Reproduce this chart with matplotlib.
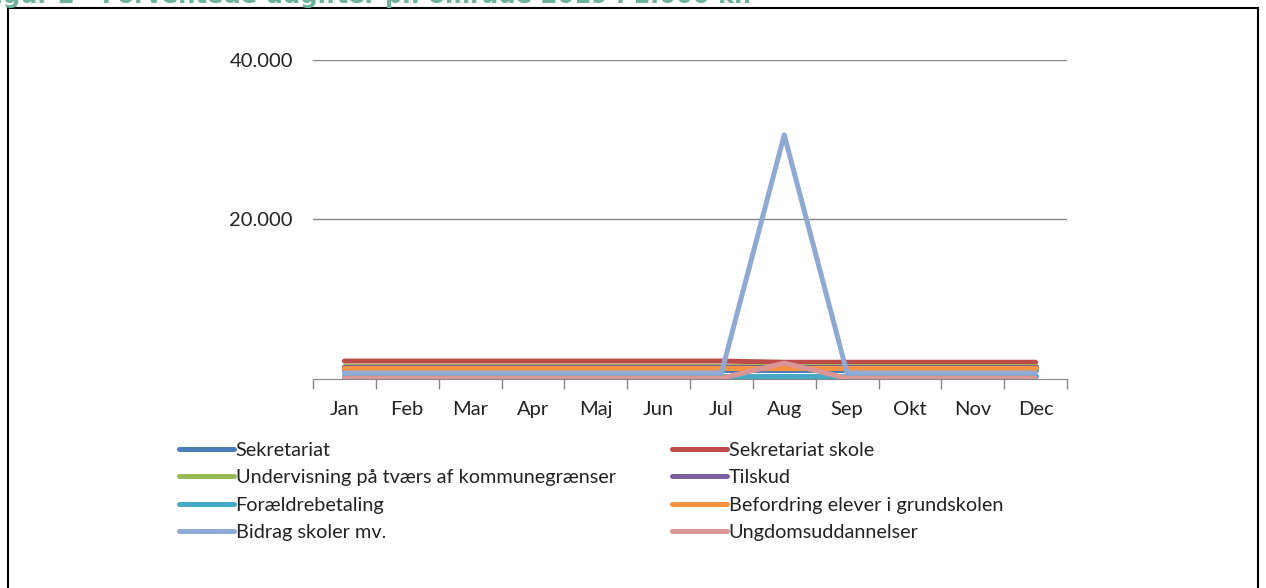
import matplotlib.pyplot as plt
from matplotlib.patches import Rectangle

# ------------------------------------------------------------
# DATA (1.000 kr. per month)
# ------------------------------------------------------------

months = ["Jan", "Feb", "Mar", "Apr", "Maj", "Jun",
          "Jul", "Aug", "Sep", "Okt", "Nov", "Dec"]

sekretariat = [1100, 1100, 1100, 1100, 1100, 1100, 1100, 1100, 1100, 1100, 1100, 1100]
sekretariat_skole = [2250, 2250, 2250, 2250, 2250, 2250, 2250, 2100, 2100, 2100, 2100, 2100]
undervisning = [1600, 1600, 1600, 1600, 1600, 1600, 1600, 1600, 1600, 1600, 1600, 1600]
tilskud = [1500, 1500, 1500, 1500, 1500, 1500, 1500, 1500, 1500, 1500, 1500, 1500]
foraeldrebetaling = [400, 400, 400, 400, 400, 400, 400, 400, 400, 400, 400, 400]
befordring = [1350, 1350, 1350, 1350, 1350, 1350, 1350, 1350, 1350, 1350, 1350, 1350]
bidrag = [750, 750, 750, 750, 750, 750, 750, 30600, 750, 750, 750, 750]
ungdom = [100, 100, 100, 100, 100, 100, 100, 2000, 100, 100, 100, 100]

series = [
    ("Sekretariat", sekretariat, "#4A7EBB"),
    ("Sekretariat skole", sekretariat_skole, "#BE4B48"),
    ("Undervisning på tværs af kommunegrænser", undervisning, "#98B954"),
    ("Tilskud", tilskud, "#7D60A0"),
    ("Forældrebetaling", foraeldrebetaling, "#46AAC5"),
    ("Befordring elever i grundskolen", befordring, "#F69240"),
    ("Bidrag skoler mv.", bidrag, "#8EA9D6"),
    ("Ungdomsuddannelser", ungdom, "#D99694"),
]

plt.rcParams['font.family'] = ['Lato', 'DejaVu Sans']

W, H = 1266, 588
fig = plt.figure(figsize=(W / 100, H / 100), dpi=100)

# frame around the chart area
fig.patches.append(Rectangle((8 / W, -0.05), 1250 / W, (H - 8) / H + 0.05,
                             transform=fig.transFigure, fill=False,
                             edgecolor="black", linewidth=1.5))

# caption, partly cut at the top edge
fig.text(-22 / W, 1.0 - 3 / H,
         "Figur 2 - Forventede udgifter pr. område 2019 i 1.000 kr.",
         color="#6DB39B", fontsize=17.5, fontweight="bold",
         family="DejaVu Sans", ha="left", va="baseline")

ax = fig.add_axes([313 / W, (H - 379) / H, (1067 - 313) / W, (379 - 60) / H])

x = list(range(len(months)))
handles = []
for label, values, color in series:
    line, = ax.plot(x, values, color=color, linewidth=3.6,
                    solid_capstyle="round", label=label)
    handles.append(line)

ax.set_xlim(-0.5, 11.5)
ax.set_ylim(0, 40000)
ax.set_yticks([20000, 40000])
ax.set_yticklabels(["20.000", "40.000"])
ax.grid(axis="y", color="#868686", linewidth=1)
ax.set_axisbelow(True)

# category ticks sit between the months
ax.set_xticks([i - 0.5 for i in range(13)])
ax.set_xticklabels([])
ax.set_xticks(x, minor=True)
ax.set_xticklabels(months, minor=True)
ax.tick_params(axis="x", which="major", length=7, color="#868686", width=1)
ax.tick_params(axis="x", which="minor", length=0, pad=16, labelsize=14.5,
               labelcolor="#222222")
ax.tick_params(axis="y", length=0, pad=14.5, labelsize=14.5,
               labelcolor="#222222")

for side in ["top", "right", "left"]:
    ax.spines[side].set_visible(False)
ax.spines["bottom"].set_color("#868686")

# two legend columns below the plot
leg_kw = dict(frameon=False, fontsize=14.3, handlelength=2.75,
              handletextpad=0.1, labelspacing=0.52, borderaxespad=0,
              borderpad=0, labelcolor="#222222")
left = fig.legend(handles[0::2], [h.get_label() for h in handles[0::2]],
                  loc="upper left", bbox_to_anchor=(179 / W, (H - 442) / H),
                  **leg_kw)
right = fig.legend(handles[1::2], [h.get_label() for h in handles[1::2]],
                   loc="upper left", bbox_to_anchor=(672 / W, (H - 442) / H),
                   **leg_kw)
for leg in (left, right):
    for h in leg.legend_handles:
        h.set_linewidth(3.6)

fig.savefig("out.png", dpi=100)
